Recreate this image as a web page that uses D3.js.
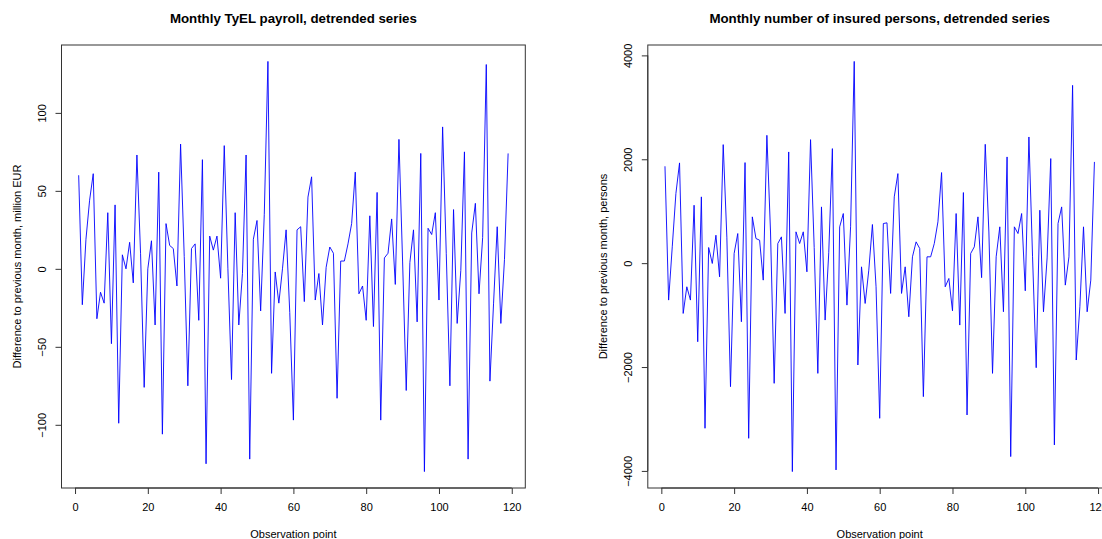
<!DOCTYPE html>
<html>
<head>
<meta charset="utf-8">
<script src="https://cdn.jsdelivr.net/npm/d3@7"></script>
<style>
  html, body { margin: 0; padding: 0; background: #fff; }
  svg { display: block; font-family: "Liberation Sans", Arial, sans-serif; }
</style>
</head>
<body>
<svg id="chart" width="1102" height="539"></svg>
<script>
// Detrended monthly series: month-over-month differences, observations 1..119
const payroll = [
  60, -23, 19, 44, 61, -32, -15, -22, 36, -48,
  41, -99, 9, 0, 17, -9, 73, 10, -76, 0,
  18, -36, 62, -106, 29, 15, 13, -11, 80, 8,
  -75, 13, 16, -33, 70, -125, 21, 12, 21, -6,
  79, 0, -71, 36, -36, -3, 73, -122, 19, 31,
  -27, 35, 133, -67, -2, -22, 0, 25, -28, -97,
  25, 27, -21, 46, 59, -20, -3, -36, 1, 14,
  10, -83, 5, 5, 16, 29, 62, -16, -11, -33,
  34, -37, 49, -97, 7, 10, 32, -10, 83, 5,
  -78, 4, 25, -34, 74, -130, 26, 22, 36, -20,
  91, 10, -75, 38, -35, -1, 75, -122, 23, 42,
  -16, 20, 131, -72, -22, 27, -35, 6, 74
];

const insured = [
  1865, -711, 314, 1340, 1930, -968, -455, -711, 1115, -1513,
  1276, -3179, 301, -6, 538, -263, 2282, 500, -2378, 186,
  570, -1128, 1936, -3372, 891, 474, 442, -327, 2461, 600,
  -2314, 378, 506, -968, 2141, -4013, 603, 378, 603, -167,
  2378, 300, -2122, 1083, -1096, 200, 2205, -3981, 699, 955,
  -808, 700, 3884, -1961, -71, -776, -135, 744, -455, -2987,
  763, 776, -583, 1276, 1724, -583, -71, -1032, 122, 410,
  282, -2570, 122, 122, 378, 795, 1744, -455, -295, -917,
  955, -1192, 1359, -2923, 186, 314, 891, -279, 2288, 600,
  -2122, 122, 699, -936, 2045, -3724, 699, 570, 955, -532,
  2429, 122, -2013, 1019, -936, 100, 2013, -3500, 763, 1083,
  -423, 122, 3423, -1865, -840, 699, -936, -327, 1949
];

const xTicks = [0, 20, 40, 60, 80, 100, 120];
const payrollTicks = [-100, -50, 0, 50, 100];
const insuredTicks = [-4000, -2000, 0, 2000, 4000];

const titles = [
  "Monthly TyEL payroll, detrended series",
  "Monthly number of insured persons, detrended series"
];
const yTitles = [
  "Difference to previous month, million EUR",
  "Difference to previous month, persons"
];
const xTitle = "Observation point";

const svg = d3.select("#chart");
const FONT = 11;
const AXIS = "#333";
const plain = d3.format("d");

// pad a range by 4% on each side, as base graphics does
function padded(ext) {
  const d = (ext[1] - ext[0]) * 0.04;
  return [ext[0] - d, ext[1] + d];
}

function panel(values, yTicks, title, yTitle, left, right) {
  const top = 45, bottom = 488;
  const obs = values.map((v, i) => ({ x: i + 1, y: v }));

  const x = d3.scaleLinear().domain(padded(d3.extent(obs, d => d.x))).range([left, right]);
  const y = d3.scaleLinear().domain(padded(d3.extent(values))).range([bottom, top]);

  const g = svg.append("g");

  // series line
  g.append("path")
    .datum(obs)
    .attr("fill", "none")
    .attr("stroke", "#0000ff")
    .attr("stroke-width", 0.9)
    .attr("stroke-linejoin", "round")
    .attr("d", d3.line().x(d => x(d.x)).y(d => y(d.y)));

  // frame
  g.append("rect")
    .attr("x", left).attr("y", top)
    .attr("width", right - left).attr("height", bottom - top)
    .attr("fill", "none").attr("stroke", AXIS).attr("stroke-width", 1);

  // x axis
  const xa = g.append("g")
    .attr("transform", `translate(0,${bottom})`)
    .call(d3.axisBottom(x).tickValues(xTicks).tickFormat(plain)
      .tickSize(6).tickPadding(9).tickSizeOuter(0));
  xa.select(".domain")
    .attr("d", `M${x(xTicks[0])},0H${x(xTicks[xTicks.length - 1])}`)
    .attr("stroke", AXIS);
  xa.selectAll(".tick line").attr("stroke", AXIS);
  xa.selectAll("text")
    .attr("font-size", FONT).attr("font-family", "Liberation Sans, Arial, sans-serif")
    .attr("fill", "#000");

  // y axis with labels running parallel to the axis
  const ya = g.append("g")
    .attr("transform", `translate(${left},0)`)
    .call(d3.axisLeft(y).tickValues(yTicks).tickFormat(plain)
      .tickSize(6).tickSizeOuter(0));
  ya.select(".domain")
    .attr("d", `M0,${y(yTicks[0])}V${y(yTicks[yTicks.length - 1])}`)
    .attr("stroke", AXIS);
  ya.selectAll(".tick line").attr("stroke", AXIS);
  ya.selectAll("text")
    .attr("font-size", FONT).attr("font-family", "Liberation Sans, Arial, sans-serif")
    .attr("fill", "#000")
    .attr("x", null).attr("dy", null)
    .attr("text-anchor", "middle")
    .attr("dominant-baseline", "central")
    .attr("transform", "translate(-19.5,0) rotate(-90)");

  const cx = (left + right) / 2;

  g.append("text")
    .attr("x", cx).attr("y", 23)
    .attr("text-anchor", "middle")
    .attr("font-size", 13.3).attr("font-weight", "bold")
    .text(title);

  g.append("text")
    .attr("x", cx).attr("y", 538)
    .attr("text-anchor", "middle")
    .attr("font-size", FONT)
    .text(xTitle);

  g.append("text")
    .attr("transform", `translate(${left - 44.5},${(top + bottom) / 2}) rotate(-90)`)
    .attr("text-anchor", "middle")
    .attr("dominant-baseline", "central")
    .attr("font-size", FONT)
    .text(yTitle);
}

panel(payroll, payrollTicks, titles[0], yTitles[0], 61.5, 525.3);
panel(insured, insuredTicks, titles[1], yTitles[1], 647.8, 1111.6);
</script>
</body>
</html>
